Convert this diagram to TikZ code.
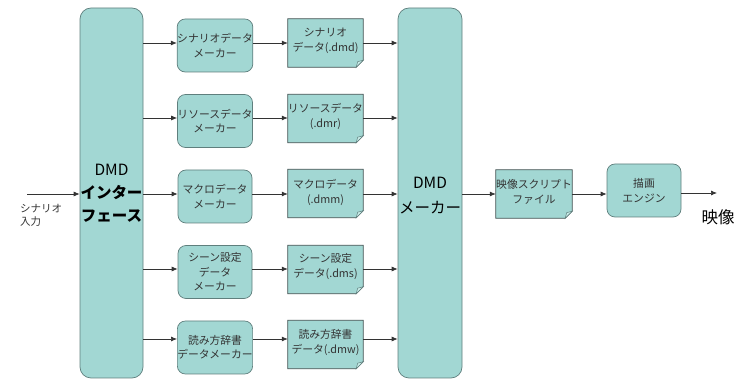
\documentclass[tikz,border=0pt]{standalone}
\usepackage{fontspec}
\setmainfont{Noto Sans CJK JP}
\usetikzlibrary{arrows.meta}
\definecolor{boxfill}{HTML}{A2D7D3}
\definecolor{boxline}{HTML}{5F7F7D}
\definecolor{docline}{HTML}{3F5050}
\definecolor{foldfill}{HTML}{C8ECE8}
\definecolor{txt}{HTML}{333333}
\definecolor{arr}{HTML}{333333}
\tikzset{
  proc/.style={rounded corners=8pt, fill=boxfill, draw=boxline, line width=0.7pt,
    minimum width=74pt, minimum height=53pt, inner sep=0pt, align=center,
    text=txt, font=\fontsize{10.8}{14.5}\selectfont},
  bigproc/.style={rounded corners=11pt, fill=boxfill, draw=boxline, line width=0.7pt,
    minimum width=63pt, minimum height=370pt, inner sep=0pt, align=center,
    text=black, font=\fontsize{15.5}{23}\selectfont},
  doc/.style={minimum width=75pt, minimum height=48pt, inner sep=0pt, align=center,
    text=txt, font=\fontsize{10.8}{15}\selectfont},
  conn/.style={draw=arr, line width=0.7pt, -{Latex[length=6pt,width=5pt]}},
  lbl/.style={inner sep=0pt, text=txt}
}
\newcommand{\docshape}[1]{%
  \fill[boxfill] (#1.north west) -- (#1.north east) -- ([yshift=7pt]#1.south east)
    -- ([xshift=-7pt]#1.south east) -- (#1.south west) -- cycle;
  \draw[docline, line width=0.7pt] (#1.north west) -- (#1.north east) -- ([yshift=7pt]#1.south east)
    -- ([xshift=-7pt]#1.south east) -- (#1.south west) -- cycle;
  \filldraw[fill=foldfill, draw=boxline, line width=0.5pt] ([yshift=7pt]#1.south east)
    -- ([xshift=-7pt]#1.south east) -- ([xshift=-5.5pt,yshift=5.5pt]#1.south east) -- cycle;
}
\begin{document}
\begin{tikzpicture}[x=1pt,y=-1pt]
\useasboundingbox (0,0) rectangle (740,379);
% row arrow levels
\coordinate (r1) at (0,43);
\coordinate (r2) at (0,118);
\coordinate (r3) at (0,194);
\coordinate (r4) at (0,269);
\coordinate (r5) at (0,339);
% big boxes
\node[bigproc] (iface) at (111.5,193) {DMD\\\textbf{インター}\\\textbf{フェース}};
\node[bigproc, minimum width=64pt] (dmdm) at (430,193) {};
\node[lbl, text=black, font=\fontsize{15.5}{25}\selectfont, align=center] (dmdmtxt) at (430,195.5) {DMD\\メーカー};
% makers
\node[proc] (m1) at (215,45.5) {シナリオデータ\\メーカー};
\node[proc] (m2) at (215,121) {リソースデータ\\メーカー};
\node[proc] (m3) at (215,196.5) {マクロデータ\\メーカー};
\node[proc] (m4) at (215,272) {シーン設定\\データ\\メーカー};
\node[proc] (m5) at (215,347.5) {読み方辞書\\データメーカー};
% documents
\node[doc] (d1) at (325.5,43) {};
\node[doc] (d2) at (325.5,118.5) {};
\node[doc] (d3) at (325.5,193.5) {};
\node[doc] (d4) at (325.5,269.5) {};
\node[doc] (d5) at (325.5,344.5) {};
\node[doc, minimum width=76pt] (sf) at (534,194) {};
\docshape{d1}\docshape{d2}\docshape{d3}\docshape{d4}\docshape{d5}\docshape{sf}
\node[doc] (d1t) at (325.5,41) {シナリオ\\データ(.dmd)};
\node[doc] (d2t) at (325.5,116) {リソースデータ\\(.dmr)};
\node[doc] (d3t) at (325.5,192) {マクロデータ\\(.dmm)};
\node[doc] (d4t) at (325.5,267) {シーン設定\\データ(.dms)};
\node[doc] (d5t) at (325.5,343) {読み方辞書\\データ(.dmw)};
\node[doc] (sft) at (534,191.5) {映像スクリプト\\ファイル};
% engine
\node[proc] (eng) at (644,190.5) {描画\\エンジン};
% input / output
\coordinate (in) at (27,194);
\coordinate (out) at (717,193);
\node[lbl, anchor=north west, align=left, font=\fontsize{10.5}{13.5}\selectfont] (inl) at (20,204) {シナリオ\\入力};
\node[lbl, text=black, font=\fontsize{16.5}{18}\selectfont] (outl) at (718,217) {映像};
% connectors
\draw[conn] (in) -- (iface.west |- in);
\foreach \r/\m/\d in {r1/m1/d1, r2/m2/d2, r3/m3/d3, r4/m4/d4, r5/m5/d5}{
  \draw[conn] (iface.east |- \r) -- (\m.west |- \r);
  \draw[conn] (\m.east |- \r) -- (\d.west |- \r);
  \draw[conn] (\d.east |- \r) -- (dmdm.west |- \r);
}
\draw[conn] (dmdm.east |- r3) -- (sf.west |- r3);
\draw[conn] (sf.east |- r3) -- (eng.west |- r3);
\draw[conn] (eng.east |- out) -- (out);
\end{tikzpicture}
\end{document}
